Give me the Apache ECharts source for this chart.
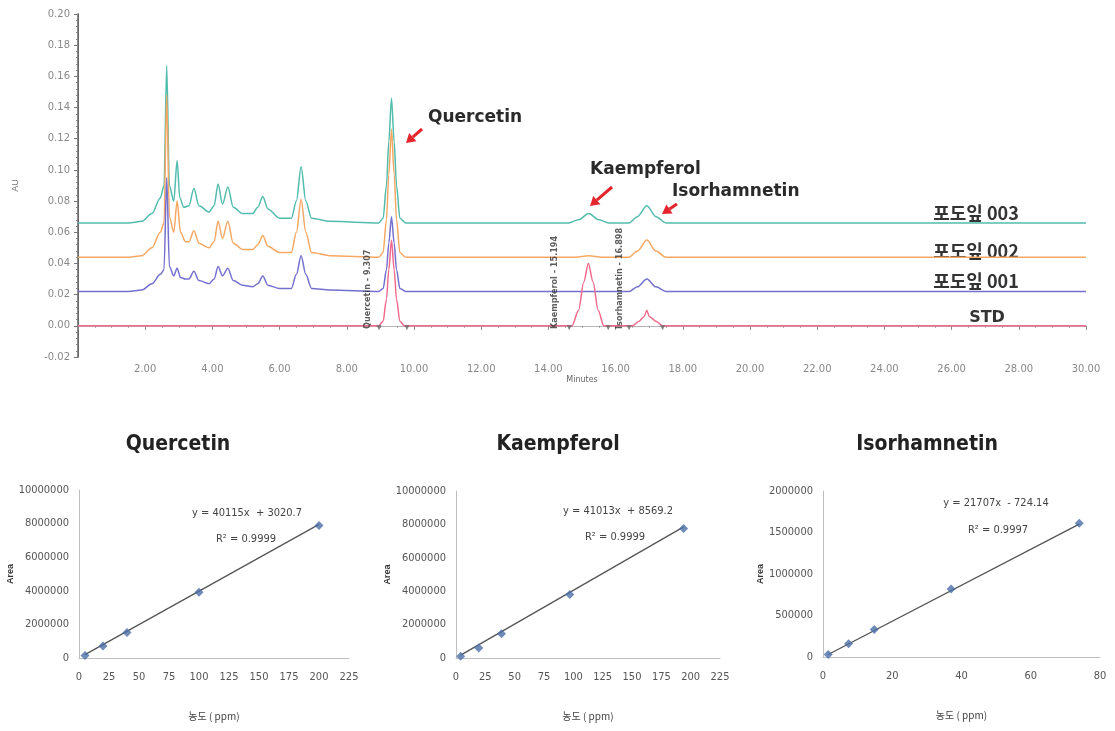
<!DOCTYPE html>
<html><head><meta charset="utf-8">
<script src="https://cdn.jsdelivr.net/npm/echarts@6/dist/echarts.min.js"></script>
<style>html,body{margin:0;padding:0;background:#fff}#c{width:1115px;height:731px}</style>
</head><body><div id="c"></div>
<script>
// ---------- Chromatogram traces: [minutes, AU] ----------
const trace003 = [[0,0.066],[1.5,0.066],[1.9,0.067],[2.2,0.072],[2.45,0.082],[2.56,0.09],[2.64,0.167],[2.72,0.09],[2.85,0.08],[2.95,0.106],[3.03,0.082],[3.15,0.076],[3.3,0.077],[3.45,0.088],[3.6,0.077],[3.9,0.073],[4.05,0.077],[4.17,0.091],[4.3,0.078],[4.46,0.089],[4.62,0.076],[4.9,0.072],[5.2,0.072],[5.35,0.076],[5.5,0.083],[5.65,0.075],[6.0,0.069],[6.35,0.069],[6.5,0.08],[6.64,0.102],[6.78,0.08],[6.95,0.069],[7.5,0.067],[8.95,0.066],[9.08,0.069],[9.18,0.09],[9.25,0.118],[9.33,0.146],[9.41,0.118],[9.48,0.09],[9.58,0.069],[9.75,0.066],[14.6,0.066],[14.9,0.068],[15.2,0.072],[15.5,0.068],[15.8,0.066],[16.4,0.066],[16.65,0.07],[16.93,0.077],[17.2,0.07],[17.5,0.066],[30,0.066]];
const trace002 = [[0,0.044],[1.5,0.044],[1.9,0.045],[2.2,0.05],[2.45,0.06],[2.56,0.066],[2.64,0.148],[2.72,0.07],[2.85,0.06],[2.95,0.08],[3.05,0.06],[3.2,0.054],[3.3,0.054],[3.45,0.061],[3.6,0.053],[3.9,0.05],[4.05,0.054],[4.17,0.067],[4.3,0.056],[4.46,0.067],[4.62,0.053],[4.9,0.049],[5.2,0.049],[5.35,0.052],[5.5,0.058],[5.65,0.051],[6.0,0.047],[6.35,0.047],[6.5,0.06],[6.64,0.081],[6.78,0.06],[6.95,0.047],[7.5,0.045],[8.95,0.044],[9.08,0.047],[9.18,0.068],[9.25,0.097],[9.33,0.126],[9.41,0.097],[9.48,0.068],[9.58,0.047],[9.75,0.044],[14.8,0.044],[15.2,0.045],[15.6,0.044],[16.4,0.044],[16.65,0.048],[16.93,0.055],[17.2,0.048],[17.5,0.044],[30,0.044]];
const trace001 = [[0,0.022],[1.5,0.022],[1.9,0.023],[2.2,0.027],[2.45,0.033],[2.56,0.036],[2.64,0.095],[2.72,0.038],[2.85,0.032],[2.95,0.037],[3.05,0.031],[3.2,0.03],[3.3,0.03],[3.45,0.035],[3.6,0.029],[3.9,0.027],[4.05,0.03],[4.17,0.038],[4.3,0.032],[4.46,0.037],[4.62,0.029],[4.9,0.026],[5.2,0.025],[5.35,0.027],[5.5,0.032],[5.65,0.026],[6.0,0.024],[6.35,0.024],[6.5,0.033],[6.64,0.045],[6.78,0.033],[6.95,0.024],[7.5,0.023],[8.95,0.022],[9.08,0.024],[9.18,0.036],[9.25,0.053],[9.33,0.07],[9.41,0.053],[9.48,0.036],[9.58,0.024],[9.75,0.022],[16.4,0.022],[16.65,0.025],[16.93,0.03],[17.2,0.025],[17.5,0.022],[30,0.022]];
const traceSTD = [[0,0],[8.95,0],[9.08,0.003],[9.18,0.017],[9.25,0.036],[9.33,0.055],[9.41,0.036],[9.48,0.017],[9.58,0.003],[9.72,0],[14.7,0],[14.9,0.01],[15.05,0.028],[15.19,0.04],[15.33,0.028],[15.48,0.01],[15.65,0],[16.5,0],[16.7,0.003],[16.85,0.006],[16.93,0.01],[17.0,0.006],[17.2,0.003],[17.4,0],[30,0]];
const traceNames = ['포도잎 003','포도잎 002','포도잎 001','STD'];
const peakBounds = [8.96, 9.79, 14.62, 15.78, 16.4, 17.4];
const peakLabels = [[8.63,'Quercetin - 9.307'],[14.2,'Kaempferol - 15.194'],[16.13,'Isorhamnetin - 16.898']];

// ---------- Calibration curves ----------
const querX = [5, 20, 40, 100, 200];
const querY = [150000, 720000, 1520000, 3920000, 7880000];
const querTrend = [[5, 200000], [200, 7950000]];
const kaemX = [4, 19.4, 38.8, 97, 194];
const kaemY = [100000, 600000, 1450000, 3800000, 7750000];
const kaemTrend = [[4, 170000], [194, 7850000]];
const isoX = [1.5, 7.4, 14.8, 37, 74];
const isoY = [30000, 160000, 330000, 820000, 1610000];
const isoTrend = [[1.5, 30000], [74, 1600000]];
const calibTitles = ['Quercetin', 'Kaempferol', 'Isorhamnetin'];
const calibEq = [['y = 40115x  + 3020.7', 'R² = 0.9999'], ['y = 41013x  + 8569.2', 'R² = 0.9999'], ['y = 21707x  - 724.14', 'R² = 0.9997']];

const colors = ['#52bcae', '#f5a863', '#7470cf', '#f06a8c'];
const NARROW = '"Liberation Sans Narrow","DejaVu Sans Condensed","Liberation Sans",sans-serif';

const chart = echarts.init(document.getElementById('c'));

function arrow(x1, y1, x2, y2) {
  const a = Math.atan2(y2 - y1, x2 - x1), L = 9, W = 5.5;
  const bx = x2 - L * Math.cos(a), by = y2 - L * Math.sin(a);
  const px = -Math.sin(a), py = Math.cos(a);
  return [
    {type: 'line', shape: {x1: x1, y1: y1, x2: bx, y2: by}, style: {stroke: '#e3262d', lineWidth: 3}},
    {type: 'polygon', shape: {points: [[x2, y2], [bx + W * px, by + W * py], [bx - W * px, by - W * py]]}, style: {fill: '#e3262d'}}
  ];
}
function txt(x, y, text, font, fill, align) {
  return {type: 'text', x: x, y: y, style: {text: text, font: font, fill: fill || '#333', align: align || 'left', verticalAlign: 'middle'}};
}

const grids = [
  {left: 78, top: 14, width: 1008, height: 343},
  {left: 79, top: 490, width: 270, height: 168},
  {left: 456, top: 491, width: 264, height: 167},
  {left: 823, top: 491, width: 277, height: 166}
];

const calibX = (gi, max, interval) => ({
  gridIndex: gi, type: 'value', min: 0, max: max, interval: interval,
  axisLine: {lineStyle: {color: '#bfbfbf'}}, axisTick: {show: false}, splitLine: {show: false},
  axisLabel: {color: '#555', fontSize: 11, fontFamily: NARROW, margin: 14},
  name: '농도 ( ppm)', nameLocation: 'middle', nameGap: 53,
  nameTextStyle: {color: '#444', fontSize: 10, fontFamily: '"Noto Sans CJK KR",sans-serif'}
});
const calibY = (gi, max, interval, gap) => ({
  gridIndex: gi, type: 'value', min: 0, max: max, interval: interval,
  axisLine: {show: true, lineStyle: {color: '#bfbfbf'}}, axisTick: {show: false}, splitLine: {show: false},
  axisLabel: {color: '#555', fontSize: 11, fontFamily: NARROW, margin: 10, formatter: v => String(v)},
  name: 'Area', nameLocation: 'middle', nameGap: gap, nameRotate: 90,
  nameTextStyle: {color: '#333', fontSize: 9, fontWeight: 'bold', fontFamily: '"Liberation Sans",sans-serif'}
});

const calibSeries = (gi, xs, ys, trend) => ([
  {type: 'line', xAxisIndex: gi + 2, yAxisIndex: gi + 2, data: trend, symbol: 'none', lineStyle: {color: '#555', width: 1.3}, silent: true, z: 2},
  {type: 'scatter', xAxisIndex: gi + 2, yAxisIndex: gi + 2, data: xs.map((x, i) => [x, ys[i]]), symbol: 'diamond', symbolSize: 9, itemStyle: {color: '#4a6ea8'}, z: 3}
]);

const traces = [trace003, trace002, trace001, traceSTD];
const series = traces.map((d, i) => ({
  type: 'line', name: traceNames[i], xAxisIndex: 0, yAxisIndex: 0, data: d, symbol: 'none',
  smooth: 0.3, smoothMonotone: 'x', lineStyle: {color: colors[i], width: 1.5}, silent: true, z: 2 + i
}));
series.push({
  type: 'scatter', xAxisIndex: 0, yAxisIndex: 0, data: peakBounds.map(t => [t, 0]),
  symbol: 'triangle', symbolRotate: 180, symbolSize: 5, symbolOffset: [0, 2], itemStyle: {color: '#666'}, z: 7
});
series.push({
  type: 'scatter', xAxisIndex: 0, yAxisIndex: 0, data: peakLabels.map(p => [p[0], -0.002, p[1]]),
  symbolSize: 0, z: 8,
  label: {show: true, formatter: p => p.data[2], rotate: 90, position: [0, 0], align: 'left', verticalAlign: 'middle',
    fontSize: 9, fontWeight: 'bold', color: '#333', fontFamily: NARROW}
});
series.push(...calibSeries(0, querX, querY, querTrend));
series.push(...calibSeries(1, kaemX, kaemY, kaemTrend));
series.push(...calibSeries(2, isoX, isoY, isoTrend));

const graphic = [];
// chromatogram annotations
graphic.push(txt(428, 118, 'Quercetin', 'bold 17px "DejaVu Sans",sans-serif', '#2a2a2a'));
graphic.push(txt(590, 170, 'Kaempferol', 'bold 17px "DejaVu Sans",sans-serif', '#2a2a2a'));
graphic.push(txt(672, 192, 'Isorhamnetin', 'bold 17px "DejaVu Sans",sans-serif', '#2a2a2a'));
graphic.push(...arrow(422, 129, 406, 143));
graphic.push(...arrow(612, 187, 590, 206));
graphic.push(...arrow(677, 204, 662, 214));
graphic.push(txt(976, 213, traceNames[0], 'bold 18px "Noto Sans CJK KR",sans-serif', '#333', 'center'));
graphic.push(txt(976, 251, traceNames[1], 'bold 18px "Noto Sans CJK KR",sans-serif', '#333', 'center'));
graphic.push(txt(976, 281, traceNames[2], 'bold 18px "Noto Sans CJK KR",sans-serif', '#333', 'center'));
graphic.push(txt(987, 318, traceNames[3], 'bold 16px "DejaVu Sans",sans-serif', '#333', 'center'));
// calibration titles & equations
const titleX = [178, 558, 927];
calibTitles.forEach((t, i) => graphic.push(txt(titleX[i], 445, t, 'bold 21px ' + NARROW, '#222', 'center')));
const eqPos = [[247, 513, 246, 539], [618, 511, 615, 537], [996, 503, 998, 530]];
calibEq.forEach((e, i) => {
  graphic.push(txt(eqPos[i][0], eqPos[i][1], e[0], '11px ' + NARROW, '#444', 'center'));
  graphic.push(txt(eqPos[i][2], eqPos[i][3], e[1], '11px ' + NARROW, '#444', 'center'));
});

const option = {
  backgroundColor: '#fff',
  animation: false,
  grid: grids,
  xAxis: [
    {gridIndex: 0, type: 'value', min: 0, max: 30, interval: 2,
      axisLine: {lineStyle: {color: '#777'}}, axisTick: {length: 4, lineStyle: {color: '#888'}},
      minorTick: {show: true, splitNumber: 4, length: 2, lineStyle: {color: '#999'}}, splitLine: {show: false},
      axisLabel: {formatter: v => v === 0 ? '' : v.toFixed(2), color: '#888', fontSize: 10, margin: 7, fontFamily: '"DejaVu Sans",sans-serif'},
      name: 'Minutes', nameLocation: 'middle', nameGap: 19, nameTextStyle: {color: '#666', fontSize: 8, fontFamily: '"DejaVu Sans",sans-serif'}},
    {gridIndex: 0, type: 'value', min: 0, max: 30, position: 'top',
      axisLine: {lineStyle: {color: '#b5b5b5'}}, axisTick: {show: false}, axisLabel: {show: false}, splitLine: {show: false}},
    calibX(1, 225, 25),
    calibX(2, 225, 25),
    calibX(3, 80, 20)
  ],
  yAxis: [
    {gridIndex: 0, type: 'value', min: -0.02, max: 0.2, interval: 0.02,
      axisLine: {show: true, lineStyle: {color: '#666'}}, axisTick: {show: true, length: 4, lineStyle: {color: '#777'}},
      minorTick: {show: true, splitNumber: 5, length: 2, lineStyle: {color: '#888'}}, splitLine: {show: false},
      axisLabel: {formatter: v => v.toFixed(2), color: '#888', fontSize: 10, margin: 8, fontFamily: '"DejaVu Sans",sans-serif'},
      name: 'AU', nameLocation: 'middle', nameGap: 58, nameRotate: 90, nameTextStyle: {color: '#777', fontSize: 9}},
    {gridIndex: 0, type: 'value', min: -0.02, max: 0.2, position: 'right',
      axisLine: {show: true, lineStyle: {color: '#666', width: 1.5}}, axisTick: {show: false}, axisLabel: {show: false}, splitLine: {show: false}},
    calibY(1, 10000000, 2000000, 64),
    calibY(2, 10000000, 2000000, 64),
    calibY(3, 2000000, 500000, 56)
  ],
  series: series,
  graphic: graphic
};
chart.setOption(option);
</script>
</body></html>
